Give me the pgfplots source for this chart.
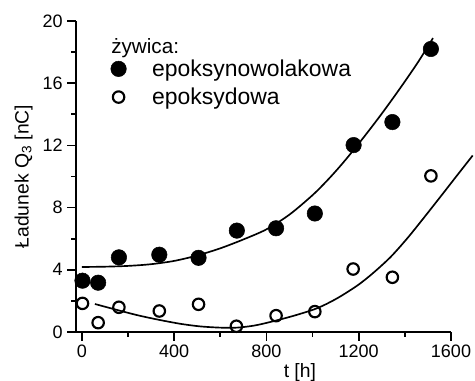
\documentclass[border=0pt]{standalone}
\usepackage{pgfplots}
\pgfplotsset{compat=1.18}
\usepackage{fontspec}
\setmainfont{Liberation Sans}
\pgfplotsset{mylegimg/.style={legend image code/.code={\path (-6pt,0pt) (25pt,0pt); \draw[##1] plot coordinates {(0pt,0pt)};}}}

\begin{document}
\begin{tikzpicture}
\begin{axis}[
  width=281.25pt, height=233.25pt, scale only axis,
  xmin=-25, xmax=1600, ymin=0, ymax=20,
  axis lines=left, axis line style={-, line width=1.4pt},
  clip=false,
  xtick={0,400,...,1600}, ytick={0,4,...,20},
  minor xtick={200,600,1000,1400}, minor ytick={2,6,10,14,18},
  tick align=outside, major tick length=6.5pt, minor tick length=3.5pt,
  every tick/.style={black, line width=1.3pt},
  tick label style={font=\fontsize{13.5}{13.5}\selectfont},
  /pgf/number format/assume math mode=true, /pgf/number format/1000 sep={},
  scaled ticks=false,
  xlabel={t [h]}, ylabel={Ładunek Q\textsubscript{3} [nC]},
  label style={font=\fontsize{14.5}{14.5}\selectfont},
  xlabel style={at={([yshift=-34.5pt]rel axis cs:0.597,0)}, anchor=base},
  ylabel style={at={([xshift=-35.6pt]rel axis cs:0,0.5)}, anchor=base},
  legend style={at={(rel axis cs:0.0915,0.876)}, anchor=north west, draw=none, fill=none,
    inner sep=0pt, outer sep=0pt, row sep=7.2pt, font=\fontsize{17.2}{17.2}\selectfont,
    nodes={inner sep=0pt}},
  legend cell align=left,
  mylegimg,
]
\coordinate (bl) at (rel axis cs:0,0);
% fitted curves
\addplot[smooth, line width=1.25pt, no marks, forget plot] coordinates {
(0,4.18)(100,4.2)(200,4.25)(300,4.36)(400,4.57)(500,4.92)(600,5.38)(700,5.95)
(800,6.6)(900,7.55)(1000,8.8)(1064,9.75)(1120,10.67)(1180,11.74)(1240,12.87)
(1296,13.96)(1350,15.06)(1400,16.11)(1460,17.42)(1522,18.9)};
\addplot[smooth, line width=1.25pt, no marks, forget plot] coordinates {
(57,1.8)(165,1.37)(250,1.05)(339,0.77)(430,0.52)(513,0.36)(600,0.28)(672,0.28)
(750,0.42)(832,0.7)(920,1.05)(1006,1.45)(1060,1.8)(1122,2.3)(1200,3.05)(1267,3.85)
(1340,4.85)(1412,6.05)(1480,7.3)(1557,8.75)(1620,9.95)(1694,11.35)};
% data
\addplot[only marks, mark=*, mark size=5.8pt, black]
coordinates {(3,3.3)(71,3.17)(161,4.8)(336,4.97)(506,4.77)(672,6.52)(842,6.67)(1010,7.62)(1178,12.02)(1346,13.5)(1513,18.2)};
\addlegendentry{epoksynowolakowa}
\addplot[only marks, mark=o, mark size=4.3pt, black, mark options={line width=1.6pt}]
coordinates {(3,1.84)(71,0.6)(161,1.59)(336,1.35)(506,1.78)(670,0.37)(842,1.05)(1010,1.31)(1176,4.05)(1346,3.52)(1513,10.04)};
\addlegendentry{epoksydowa}
\node[anchor=base west, inner sep=0pt, font=\fontsize{15.5}{15.5}\selectfont] at (rel axis cs:0.0933,0.896) {żywica:};
\end{axis}
\pgfresetboundingbox
\path ([shift={(-57pt,-36.75pt)}]bl) rectangle ([shift={(299.25pt,249pt)}]bl);
\end{tikzpicture}
\end{document}
